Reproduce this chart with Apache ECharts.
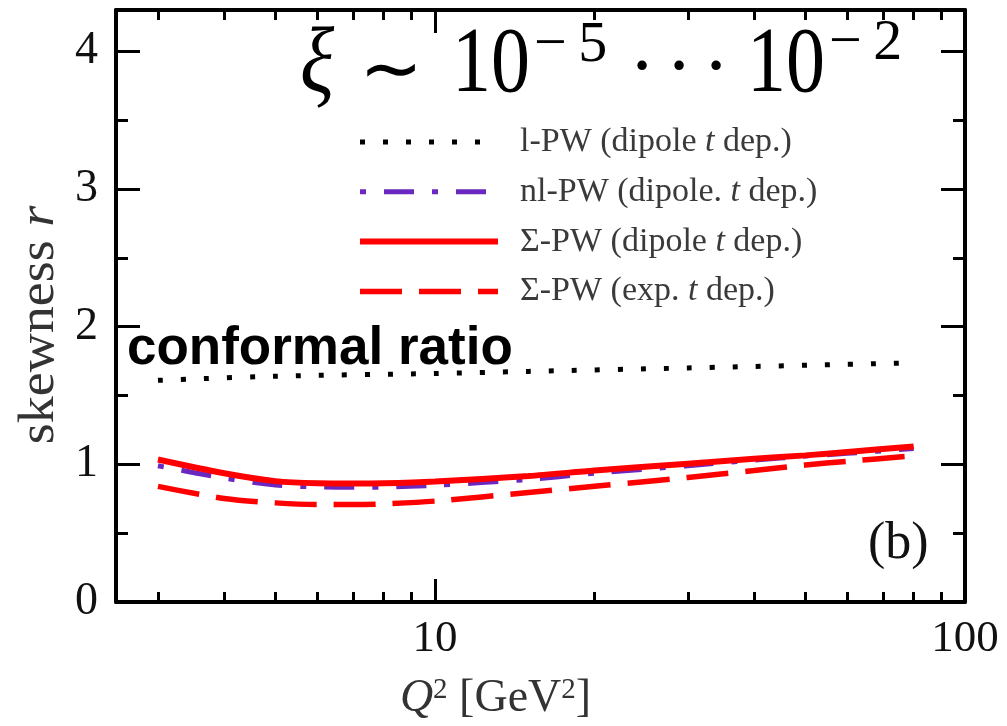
<!DOCTYPE html>
<html><head><meta charset="utf-8">
<script src="https://cdn.jsdelivr.net/npm/echarts@6/dist/echarts.min.js"></script>
<style>html,body{margin:0;padding:0;background:#fff}#c{width:1007px;height:726px}</style>
</head><body><div id="c"></div>
<script>
// ---- data ----
const q2 = [3, 4, 5, 6, 7, 8, 10, 15, 20, 30, 40, 50, 60, 80];
const sigmaDipole = [1.035, 0.935, 0.878, 0.862, 0.86, 0.862, 0.875, 0.915, 0.955, 1.005, 1.04, 1.065, 1.09, 1.13];
const nlDipole    = [0.99, 0.9, 0.85, 0.836, 0.833, 0.835, 0.848, 0.89, 0.935, 0.99, 1.03, 1.06, 1.08, 1.115];
const sigmaExp    = [0.84, 0.752, 0.72, 0.708, 0.708, 0.713, 0.733, 0.795, 0.84, 0.905, 0.955, 0.995, 1.022, 1.062];
const q2Local = [3, 5, 10, 15, 30, 75];
const lDipole = [1.61, 1.64, 1.66, 1.675, 1.70, 1.735];
const seriesNames = ['l-PW (dipole t dep.)', 'nl-PW (dipole. t dep.)', 'Σ-PW (dipole t dep.)', 'Σ-PW (exp. t dep.)'];
const xMajorTicks = [10, 100];
const xMinorTicks = [3, 4, 5, 6, 7, 8, 9, 20, 30, 40, 50, 60, 70, 80, 90];
const xTickLabels = [10, 100];
const yMajorTicks = [0, 1, 2, 3, 4];
const yMinorTicks = [0.5, 1.5, 2.5, 3.5];

const SERIF = "'Liberation Serif', 'DejaVu Serif', serif";
const pairs = (xs, ys) => xs.map((x, i) => [x, ys[i]]);

const styles = [
  { color: '#000000', width: 5, type: [5, 18] },
  { color: '#6a28c0', width: 5, type: [6, 18, 30, 18] },
  { color: '#ff0000', width: 6, type: 'solid' },
  { color: '#ff0000', width: 5.5, type: [42, 17] }
];

function xAx(pos, ticks, len, withLine, withLabel) {
  return {
    type: 'log', logBase: 10, min: 2.5, max: 100, position: pos, gridIndex: 0,
    axisLine: { show: withLine, onZero: false, lineStyle: { color: '#000', width: 4 } },
    axisTick: { show: true, inside: true, length: len, customValues: ticks, lineStyle: { color: '#000', width: 3 } },
    axisLabel: withLabel ? { show: true, customValues: xTickLabels, fontFamily: SERIF, fontSize: 45, color: '#111', margin: 15 } : { show: false },
    splitLine: { show: false }, minorTick: { show: false }
  };
}
function yAx(pos, ticks, len, withLine, withLabel) {
  return {
    type: 'value', min: 0, max: 4.3, position: pos, gridIndex: 0,
    axisLine: { show: withLine, onZero: false, lineStyle: { color: '#000', width: 4 } },
    axisTick: { show: true, inside: true, length: len, customValues: ticks, lineStyle: { color: '#000', width: 3 } },
    axisLabel: withLabel ? { show: true, customValues: yMajorTicks, fontFamily: SERIF, fontSize: 46, color: '#111', margin: 18 } : { show: false },
    splitLine: { show: false }
  };
}

const xMain = xAx('bottom', xMajorTicks, 23, true, true);
xMain.name = '{q|Q}{s|2}{n| [GeV}{s|2}{n|]}';
xMain.nameLocation = 'middle';
xMain.nameGap = 74;
xMain.nameTextStyle = {
  padding: [0, 90, 0, 0],
  rich: {
    q: { fontFamily: SERIF, fontStyle: 'italic', fontSize: 46, color: '#333' },
    n: { fontFamily: SERIF, fontSize: 46, color: '#333' },
    s: { fontFamily: SERIF, fontSize: 29, color: '#333', verticalAlign: 'top' }
  }
};

const legendRich = {
  a: { fontFamily: SERIF, fontSize: 34, color: '#3a3a3a', lineHeight: 36 },
  i: { fontFamily: SERIF, fontSize: 34, fontStyle: 'italic', color: '#3a3a3a', lineHeight: 36 }
};

const titleFont = (size, italic) => (italic ? 'italic ' : '') + size + "px 'Liberation Serif', serif";

const option = {
  animation: false,
  backgroundColor: '#fff',
  grid: { left: 116, right: 42, top: 10, bottom: 124, containLabel: false, outerBoundsMode: 'none' },
  xAxis: [
    xMain,
    xAx('bottom', xMinorTicks, 10, false, false),
    xAx('top', xMajorTicks, 23, true, false),
    xAx('top', xMinorTicks, 10, false, false)
  ],
  yAxis: [
    yAx('left', yMajorTicks, 24, true, true),
    yAx('left', yMinorTicks, 12, false, false),
    yAx('right', yMajorTicks, 24, true, false),
    yAx('right', yMinorTicks, 12, false, false)
  ],
  legend: {
    orient: 'vertical', left: 357, top: 125, padding: 0,
    itemWidth: 138, itemHeight: 14, itemGap: 15.8,
    itemStyle: { opacity: 0 },
    textStyle: { fontFamily: SERIF, fontSize: 34, color: '#3a3a3a', padding: [0, 0, 0, 17], rich: legendRich },
    formatter: (name) => {
      const parts = name.split(' t ');
      return '{a|' + parts[0] + ' }{i|t}{a| ' + parts[1] + '}';
    },
    data: seriesNames.map((n, i) => ({ name: n, lineStyle: { color: styles[i].color, width: styles[i].width, type: styles[i].type } }))
  },
  graphic: [
    { type: 'text', x: 300, y: 66, scaleX: 0.85, style: { text: 'ξ', font: titleFont(94, true), fill: '#000', align: 'left', verticalAlign: 'middle' } },
    { type: 'text', x: 391, y: 74, style: { text: '∼', font: "76px 'DejaVu Sans', sans-serif", fill: '#000', align: 'center', verticalAlign: 'middle' } },
    { type: 'text', x: 452, y: 66, scaleX: 0.83, style: { text: '10', font: titleFont(94), fill: '#000', align: 'left', verticalAlign: 'middle' } },
    { type: 'text', x: 534, y: 46, style: { text: '−\u20095', font: titleFont(58), fill: '#000', align: 'left', verticalAlign: 'middle' } },
    { type: 'text', x: 642, y: 71, style: { text: '·', font: titleFont(80), fill: '#000', align: 'center', verticalAlign: 'middle' } },
    { type: 'text', x: 679, y: 71, style: { text: '·', font: titleFont(80), fill: '#000', align: 'center', verticalAlign: 'middle' } },
    { type: 'text', x: 716, y: 71, style: { text: '·', font: titleFont(80), fill: '#000', align: 'center', verticalAlign: 'middle' } },
    { type: 'text', x: 747, y: 66, scaleX: 0.83, style: { text: '10', font: titleFont(94), fill: '#000', align: 'left', verticalAlign: 'middle' } },
    { type: 'text', x: 829, y: 44, style: { text: '−\u20092', font: titleFont(58), fill: '#000', align: 'left', verticalAlign: 'middle' } },
    {
      type: 'text', x: 40, y: 325, rotation: Math.PI / 2, scaleX: 1.08,
      style: {
        text: '{n|skewness }{i|r}', align: 'center', verticalAlign: 'middle',
        rich: {
          n: { font: "50px 'Liberation Serif', serif", fill: '#333' },
          i: { font: "italic 50px 'Liberation Serif', serif", fill: '#333' }
        }
      }
    },
    { type: 'text', left: 127, top: 323, style: { text: 'conformal ratio', font: "bold 53px 'Liberation Sans', Arial, sans-serif", fill: '#000' } },
    { type: 'text', left: 868, top: 518, style: { text: '(b)', font: "52px 'Liberation Serif', serif", fill: '#111' } }
  ],
  series: [
    { name: seriesNames[0], data: pairs(q2Local, lDipole) },
    { name: seriesNames[1], data: pairs(q2, nlDipole) },
    { name: seriesNames[2], data: pairs(q2, sigmaDipole) },
    { name: seriesNames[3], data: pairs(q2, sigmaExp) }
  ].map((s, i) => Object.assign(s, {
    type: 'line', xAxisIndex: 0, yAxisIndex: 0,
    symbol: 'none', showSymbol: false, smooth: 0.3,
    lineStyle: { color: styles[i].color, width: styles[i].width, type: styles[i].type },
    itemStyle: { color: styles[i].color }
  }))
};
const chart = echarts.init(document.getElementById('c'), null, { renderer: 'canvas' });
chart.setOption(option);
</script>
</body></html>
